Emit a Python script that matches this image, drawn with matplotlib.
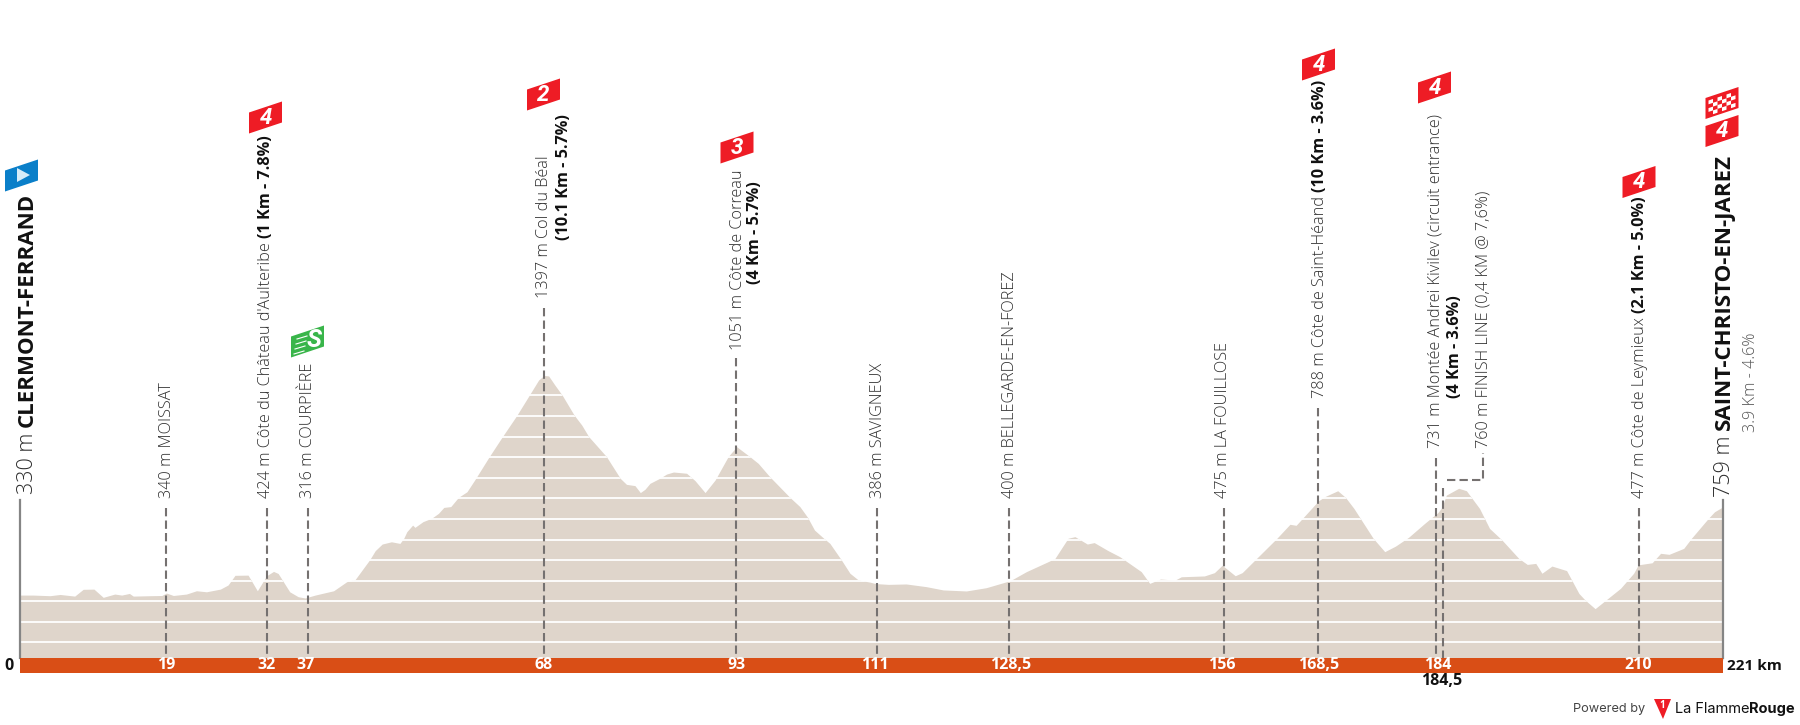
import matplotlib
matplotlib.use('Agg')
import matplotlib.pyplot as plt
from matplotlib.patches import Polygon

plt.rcParams['font.family'] = ['Open Sans', 'DejaVu Sans']

# profile
profile_km = [0, 1.7, 3.9, 5.2, 7.1, 8.2, 9.6, 10.8, 12.3, 13.2, 14.2, 14.7, 16.9, 18.4, 19, 19.9, 21.6, 22.9, 24.2, 26,
              27, 27.9, 29.6, 30.8, 32, 32.9, 33.5, 35, 36.1, 37, 38.3, 40.7, 42.4, 43.5, 45.4, 46.1, 47, 48.2, 49.3,
              49.8, 50.2, 50.95, 51.25, 52.3, 53.4, 54.3, 55, 55.9, 56.9, 58, 59, 60.9, 62.6, 64.45, 66.1, 67.3, 68,
              68.6, 69.4, 70.4, 71.9, 72.9, 73.8, 76.1, 77.9, 78.7, 79.8, 80.5, 81.1, 81.75, 83, 83.9, 84.8, 86.5,
              87.6, 88.9, 90.2, 91.9, 93, 94.7, 95.8, 97.3, 99.9, 101.2, 102.2, 103.1, 104.3, 105.1, 106.6, 107.7,
              108.8, 110.3, 111, 112.7, 115, 117.6, 119.8, 122.8, 125.4, 128.5, 130.6, 133.4, 134.3, 136, 136.9,
              138.5, 139.4, 141.2, 142.7, 145.5, 146.6, 148, 149.9, 150.7, 153.7, 155, 156, 157.7, 158.6, 160.7,
              163.1, 164.8, 165.6, 168.5, 169.3, 171, 172, 173.1, 175.6, 177.1, 178.5, 180.2, 182.3, 184, 184.5,
              185.1, 186.7, 187.7, 189.4, 190.7, 192.3, 194.5, 195.6, 196.7, 197.5, 198.8, 200.7, 202.3, 203.1,
              204.4, 205.8, 207.7, 209.4, 210, 211.8, 212.9, 214, 215.9, 216.9, 219.1, 219.9, 221]
profile_alt = [330, 330, 327, 333, 325, 358, 359, 319, 335, 330, 338, 325, 327, 328, 340, 328, 335, 351, 346, 359,
               379, 426, 427, 351, 424, 445, 435, 346, 322, 316, 330, 351, 395, 406, 503, 546, 578, 589, 581,
               606, 638, 670, 659, 687, 703, 727, 756, 760, 805, 832, 889, 1003, 1100, 1202, 1302, 1375, 1397,
               1395, 1351, 1299, 1205, 1156, 1100, 1003, 897, 868, 862, 828, 844, 873, 897, 918, 928, 922,
               886, 828, 889, 1003, 1051, 1003, 970, 905, 805, 760, 708, 646, 606, 581, 500, 436,
               403, 393, 386, 382, 384, 371, 355, 350, 366, 400, 444, 492, 508, 606, 614,
               578, 585, 546, 517, 444, 387, 408, 403, 419, 423, 439, 475, 424, 439, 517,
               606, 674, 669, 788, 808, 837, 805, 751, 606, 541, 568, 611, 679, 731, 755,
               816, 849, 837, 751, 654, 598, 508, 479, 484, 436, 471, 449, 338, 306,
               264, 306, 363, 436, 477, 487, 533, 528, 557, 606, 703, 735, 759]

band_km = [19, 32, 37, 68, 93, 111, 128.5, 156, 168.5, 184, 210]
band_labels = ['19', '32', '37', '68', '93', '111', '128,5', '156', '168,5', '184', '210']
dash_km = [19, 32, 37.4, 68, 92.9, 111.2, 128.3, 156.2, 168.5, 183.75, 210.1]
dash_top = [508, 508, 508, 308, 358, 508, 508, 508, 408, 458, 508]

KM_PX = 7.706
M_PX = 0.2058
GRAY = '#2e2e2e'
DARK = '#111111'
RED = '#ee1c25'
DASH = '#757170'


def ym(y):
    # pixel row to metres
    return (663 - y) / M_PX


def xk(x):
    # pixel column to km
    return (x - 20) / KM_PX


fig = plt.figure(figsize=(18, 7.25), dpi=100)
ax = fig.add_axes([0, 0, 1, 1])
ax.set_xlim(xk(0), xk(1800))
ax.set_ylim(ym(725), ym(0))
ax.axis('off')
renderer = fig.canvas.get_renderer()

area = ax.fill_between(profile_km, profile_alt, ym(660), color='#dfd5cb', lw=0, zorder=1)
for h in range(100, 1400, 100):
    ln, = ax.plot([0, 221], [h, h], color='white', lw=1.3, zorder=2)
    ln.set_clip_path(area.get_paths()[0], transform=ax.transData)

ax.fill_between([0, 221], ym(658), ym(673), color='#d94e16', lw=0, zorder=3)

for k, top in zip(dash_km, dash_top):
    ax.plot([k, k], [ym(top), ym(658)], color=DASH, lw=1.5, dashes=(4, 2), zorder=2.5)
ax.plot([184.65, 184.65], [ym(488), ym(658)], color=DASH, lw=1.5, dashes=(4, 2), zorder=2.5)
ax.plot([xk(1447), xk(1483), xk(1483)], [ym(480), ym(480), ym(453)], color=DASH, lw=1.5,
        dashes=(4, 2), zorder=2.5)
ax.plot([0, 0], [ym(500), ym(658)], color='#858585', lw=1.6, zorder=2.5)
ax.plot([221, 221], [ym(500), ym(658)], color='#858585', lw=1.6, zorder=2.5)

for k, s in zip(band_km, band_labels):
    ax.text(k, ym(665), s, color='white', fontsize=11.5, fontweight='bold', ha='center', va='center', zorder=4)
ax.text(xk(9), ym(666), '0', color=DARK, fontsize=11.5, fontweight='bold', ha='center', va='center')
ax.text(xk(1727), ym(666), '221 km', color=DARK, fontsize=11, fontweight='bold', ha='left', va='center')
ax.text(184.5, ym(681), '184,5', color=DARK, fontsize=11.5, fontweight='bold', ha='center', va='center')


def vtext(x, y, pieces):
    # rotated text made of pieces, x is the baseline column, y the row it starts from
    for s, weight, size, color in pieces:
        t = ax.text(xk(x), ym(y), s, rotation=90, rotation_mode='anchor', ha='left', va='baseline',
                    fontsize=size, fontweight=weight, color=color, zorder=5)
        y -= t.get_window_extent(renderer).height


FS = 11.7
LT = 'light'
vtext(33, 494, [('330 m ', LT, 15.5, GRAY), ('CLERMONT-FERRAND', 'bold', 16, DARK)])
vtext(171, 498, [('340 m MOISSAT', LT, FS, GRAY)])
vtext(270, 498, [('424 m Côte du Château d\'Aulteribe ', LT, FS, GRAY), ('(1 Km - 7.8%)', 'bold', FS, DARK)])
vtext(312, 498, [('316 m COURPIÈRE', LT, FS, GRAY)])
vtext(548, 298, [('1397 m Col du Béal', LT, FS, GRAY)])
vtext(568, 240, [('(10.1 Km - 5.7%)', 'bold', FS, DARK)])
vtext(742, 350, [('1051 m Côte de Correau', LT, FS, GRAY)])
vtext(759, 284, [('(4 Km - 5.7%)', 'bold', FS, DARK)])
vtext(882, 498, [('386 m SAVIGNEUX', LT, FS, GRAY)])
vtext(1014, 498, [('400 m BELLEGARDE-EN-FOREZ', LT, FS, GRAY)])
vtext(1227, 498, [('475 m LA FOUILLOSE', LT, FS, GRAY)])
vtext(1324, 398, [('788 m Côte de Saint-Héand ', LT, FS, GRAY), ('(10 Km - 3.6%)', 'bold', FS, DARK)])
vtext(1440, 448, [('731 m Montée Andrei Kivilev (circuit entrance)', LT, FS, GRAY)])
vtext(1459, 398, [('(4 Km - 3.6%)', 'bold', FS, DARK)])
vtext(1487, 448, [('760 m FINISH LINE (0,4 KM @ 7,6%)', LT, FS, GRAY)])
vtext(1644, 498, [('477 m Côte de Leymieux ', LT, FS, GRAY), ('(2.1 Km - 5.0%)', 'bold', FS, DARK)])
vtext(1730, 497, [('759 m ', LT, 15.5, GRAY), ('SAINT-CHRISTO-EN-JAREZ', 'bold', 16, DARK)])
vtext(1755, 432, [('3.9 Km - 4.6%', LT, FS, '#555555')])


def flag_shape(cx, cy, color):
    w, h, s = 16.5, 10.5, 5.5
    pts = [(cx - w, cy + h + s), (cx - w, cy - h + s), (cx + w, cy - h - s), (cx + w, cy + h - s)]
    p = Polygon([(xk(a), ym(b)) for a, b in pts], closed=True, facecolor=color, edgecolor='none', zorder=5)
    ax.add_patch(p)
    return p


def red_flag(cx, cy, s):
    flag_shape(cx, cy, RED)
    ax.text(xk(cx), ym(cy), s, color='white', fontsize=16, fontweight='bold', style='italic',
            family=['Liberation Sans Narrow', 'Roboto'], ha='center', va='center', zorder=6)


for cx, cy, s in [(265.5, 117.5, '4'), (543.5, 94.5, '2'), (737, 147.5, '3'), (1318.5, 64.5, '4'),
                  (1434.5, 87.5, '4'), (1639, 182, '4'), (1722, 131, '4')]:
    red_flag(cx, cy, s)

# start flag
flag_shape(21.5, 175.5, '#0a7fc9')
tri = [(17, 168), (17, 182), (30, 175)]
ax.add_patch(Polygon([(xk(a), ym(b)) for a, b in tri], closed=True, facecolor='#d7ecf8', edgecolor='none', zorder=6))

# sprint flag
flag_shape(307.5, 341.5, '#39b54a')
ax.text(xk(314), ym(340), 'S', color='white', fontsize=18, fontweight='bold', style='italic',
        family=['Liberation Sans Narrow', 'Roboto'], ha='center', va='center', zorder=6)
for dy in range(4):
    y0 = 337 + dy * 5
    ax.plot([xk(297 - dy), xk(307 - dy)], [ym(y0 + 2), ym(y0 - 1)], color='white', lw=0.8, zorder=6)

# finish flag, checkered
flag_shape(1722, 103, RED)
for i in range(6):
    for j in range(4):
        if (i + j) % 2 == 0:
            x0 = 1708.5 + i * 4.5
            y0 = 100.5 - (x0 - 1708.5) / 3 + j * 3.8
            sq = [(x0, y0), (x0 + 4.5, y0 - 1.5), (x0 + 4.5, y0 + 2.3), (x0, y0 + 3.8)]
            ax.add_patch(Polygon([(xk(a), ym(b)) for a, b in sq], closed=True, facecolor='white', edgecolor='none', zorder=6))

# footer
ax.text(xk(1573), ym(709), 'Powered by', color='#444444', fontsize=9.2, family='Inter', ha='left', va='center')
logo = [(1654, 699), (1671, 699), (1663, 719)]
ax.add_patch(Polygon([(xk(a), ym(b)) for a, b in logo], closed=True, facecolor=RED, edgecolor='none', zorder=5))
ax.text(xk(1662.5), ym(705.5), '1', color='white', fontsize=7, fontweight='bold', ha='center', va='center', zorder=6)
t = ax.text(xk(1675), ym(709), 'La Flamme', color=DARK, fontsize=10.5, family='Inter', ha='left', va='center')
w = t.get_window_extent(renderer).width
ax.text(xk(1675 + w), ym(709), 'Rouge', color=DARK, fontsize=10.5, family='Inter', fontweight='bold', ha='left', va='center')

fig.savefig('out.png', dpi=100)
